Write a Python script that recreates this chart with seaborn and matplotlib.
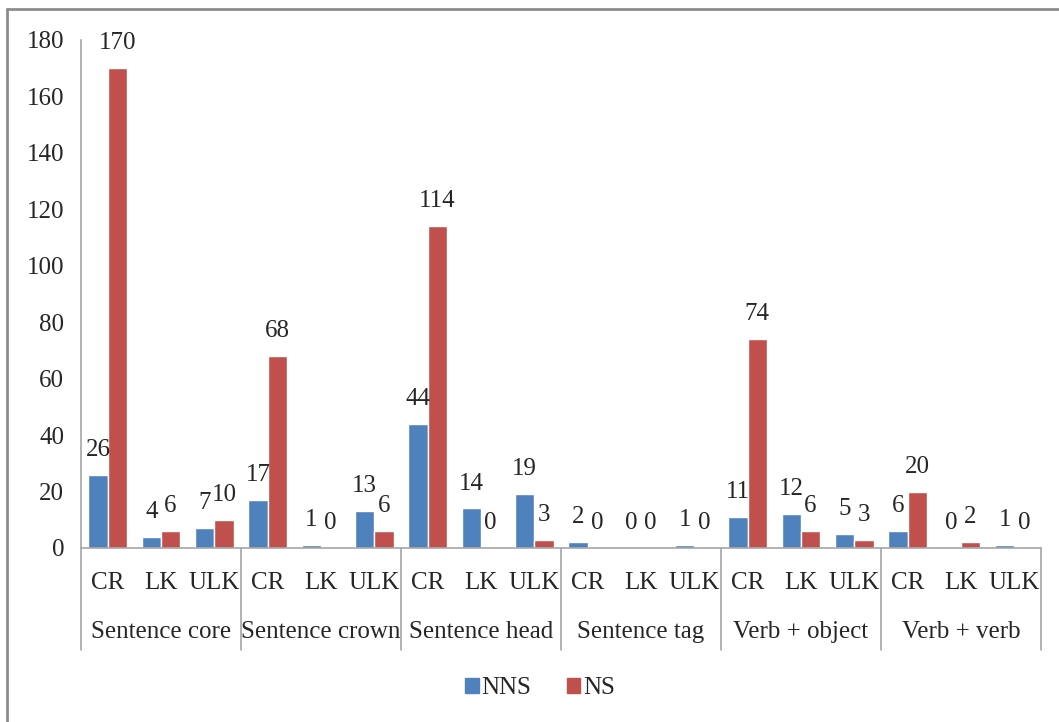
import pandas as pd
import matplotlib.pyplot as plt
import seaborn as sns
from matplotlib.patches import Patch
from matplotlib.lines import Line2D

groups = ['Sentence core', 'Sentence crown', 'Sentence head', 'Sentence tag', 'Verb + object', 'Verb + verb']
subs = ['CR', 'LK', 'ULK']
nns = [26, 4, 7, 17, 1, 13, 44, 14, 19, 2, 0, 1, 11, 12, 5, 6, 0, 1]
ns = [170, 6, 10, 68, 0, 6, 114, 0, 3, 0, 0, 0, 74, 6, 3, 20, 2, 0]
series = ['NNS', 'NS']
colors = ['#4F81BD', '#C0504D']

keys = [g + '|' + s for g in groups for s in subs]
df = pd.DataFrame({
    'key': keys * 2,
    'Series': ['NNS'] * len(keys) + ['NS'] * len(keys),
    'Value': nns + ns,
})

sns.set_style('white')
plt.rcParams['font.family'] = ['Liberation Serif', 'DejaVu Serif']
fs = 18

fig = plt.figure(figsize=(10.59, 7.22), dpi=100)
ax = fig.add_axes([81 / 1059, 1 - 548 / 722, 960 / 1059, 508 / 722])

sns.barplot(data=df, x='key', y='Value', hue='Series', order=keys, hue_order=series,
            palette=colors, width=0.72, gap=0, saturation=1, errorbar=None, ax=ax, legend=False)

for c in ax.containers:
    ax.bar_label(c, padding=10, fontsize=fs)

ax.set_ylim(0, 180)
ax.set_yticks(range(0, 181, 20))
ax.set_xlim(-0.5, len(keys) - 0.5)
ax.set_xticks(range(len(keys)))
ax.set_xticklabels(subs * len(groups), fontsize=fs)
ax.tick_params(axis='x', length=0, pad=17)
ax.tick_params(axis='y', length=0, pad=12, labelsize=fs)
ax.set_xlabel('')
ax.set_ylabel('')

for side in ['top', 'right']:
    ax.spines[side].set_visible(False)
for side in ['left', 'bottom']:
    ax.spines[side].set_color('#A6A6A6')
    ax.spines[side].set_linewidth(1.2)

# group labels and separators under the axis
trans = ax.get_xaxis_transform()
for i, g in enumerate(groups):
    ax.text(i * 3 + 1, -0.166, g, transform=trans, ha='center', va='center', fontsize=fs)
for i in range(len(groups) + 1):
    ax.add_line(Line2D([i * 3 - 0.5, i * 3 - 0.5], [0, -0.2], transform=trans,
                       color='#A6A6A6', lw=1.2, clip_on=False))

handles = [Patch(color=c, label=s) for c, s in zip(colors, series)]
fig.legend(handles=handles, loc='center', bbox_to_anchor=(540 / 1059, 1 - 688 / 722), ncol=2,
           frameon=False, fontsize=fs, handlelength=0.55, handleheight=0.55,
           handletextpad=0.1, columnspacing=1.4)

# outer chart border (only top and left visible in the original crop)
fig.add_artist(Line2D([7 / 1059, 7 / 1059], [0, 1 - 9 / 722], transform=fig.transFigure,
                      color='#8C8C8C', lw=2))
fig.add_artist(Line2D([7 / 1059, 1], [1 - 9 / 722, 1 - 9 / 722], transform=fig.transFigure,
                      color='#8C8C8C', lw=2))

fig.savefig('out.png', dpi=100)
